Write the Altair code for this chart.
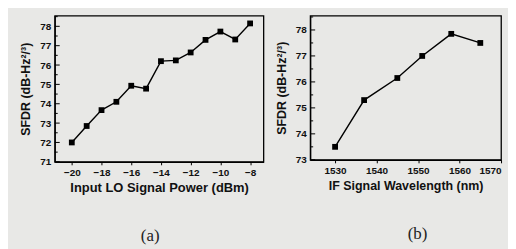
import altair as alt
import pandas as pd

# Panel (a)
lo_power = [-20, -19, -18, -17, -16, -15, -14, -13, -12, -11, -10, -9, -8]
sfdr_a = [72.0, 72.85, 73.67, 74.1, 74.93, 74.78, 76.2, 76.24, 76.65, 77.3, 77.73, 77.32, 78.15]
xticks_a = [-20, -18, -16, -14, -12, -10, -8]
yticks_a = [71, 72, 73, 74, 75, 76, 77, 78]

# Panel (b)
wavelength = [1530, 1537, 1545, 1551, 1558, 1565]
sfdr_b = [73.5, 75.3, 76.15, 77.0, 77.85, 77.5]
xticks_b = [1530, 1540, 1550, 1560, 1570]
yticks_b = [73, 74, 75, 76, 77, 78]

ytitle = "SFDR (dB-Hz²/³)"
FONT = "Liberation Sans"
BG = "#e8e8e6"


def panel(xs, ys, xdom, ydom, xticks, yticks, xtitle, caption, w, h, cap_dx, title_size):
    df = pd.DataFrame({"x": xs, "y": ys})
    xs_scale = alt.Scale(domain=xdom, nice=False, zero=False)
    ys_scale = alt.Scale(domain=ydom, nice=False, zero=False)
    yaxis = alt.Axis(values=yticks, ticks=False, labelPadding=4, titlePadding=7, format="d")
    line = alt.Chart(df).mark_line(
        color="black", strokeWidth=1.4,
        point=alt.OverlayMarkDef(shape="square", filled=True, size=34, color="black", opacity=1),
    ).encode(
        x=alt.X("x:Q", scale=xs_scale, title=xtitle,
                axis=alt.Axis(values=xticks, tickSize=3, labelPadding=3, titlePadding=4,
                              format="d", titleFontSize=title_size)),
        y=alt.Y("y:Q", scale=ys_scale, title=ytitle, axis=yaxis),
    )
    # inward y ticks (major and minor)
    major = pd.DataFrame({"v": yticks})
    minor = pd.DataFrame({"v": [t + 0.5 for t in yticks if t + 0.5 < ydom[1]]})
    tmaj = alt.Chart(major).mark_rule(color="black", strokeWidth=1).encode(
        y=alt.Y("v:Q", scale=ys_scale, title=ytitle, axis=yaxis), x=alt.value(0), x2=alt.value(5))
    tmin = alt.Chart(minor).mark_rule(color="black", strokeWidth=1).encode(
        y=alt.Y("v:Q", scale=ys_scale, title=ytitle, axis=yaxis), x=alt.value(0), x2=alt.value(3))
    return alt.layer(line, tmaj, tmin).properties(
        width=w, height=h,
        title=alt.TitleParams(caption, orient="bottom", font="Liberation Serif",
                              fontSize=17, fontWeight="normal", offset=34, dx=cap_dx,
                              color="#222"),
    )


a = panel(lo_power, sfdr_a, [-21.15, -7.1], [71, 78.55], xticks_a, yticks_a,
          "Input LO Signal Power (dBm)", "(a)", 210, 147, -9, 13)
b = panel(wavelength, sfdr_b, [1524, 1570], [73, 78.55], xticks_b, yticks_b,
          "IF Signal Wavelength (nm)", "(b)", 192, 145, 12, 12.5)

chart = alt.hconcat(a, b, spacing=10).properties(
    padding={"left": 11, "top": 6, "right": 5, "bottom": 5},
).configure(
    background=BG,
).configure_view(
    stroke="black", strokeWidth=1.3, fill=BG,
).configure_axis(
    domainColor="black", domainWidth=1.3, tickColor="black", grid=False,
    labelFont=FONT, labelFontSize=10, labelFontWeight="bold", labelColor="#111",
    titleFont=FONT, titleFontSize=12.5, titleFontWeight="bold", titleColor="#111",
)

chart.save("out.html", embed_options={"renderer": "svg", "actions": False})
